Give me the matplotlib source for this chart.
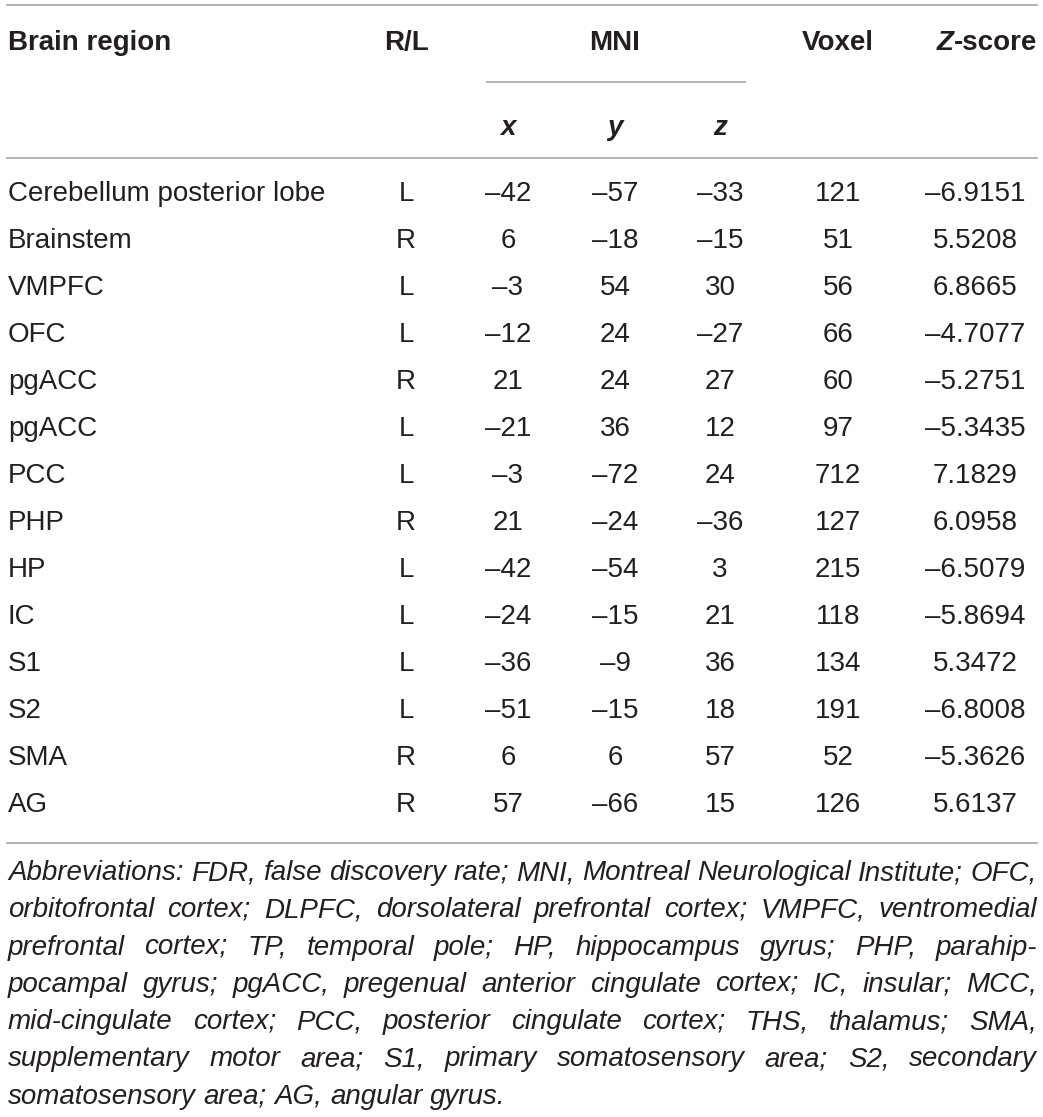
import matplotlib
matplotlib.use("Agg")
import matplotlib.pyplot as plt
from matplotlib import font_manager

regions = ["Cerebellum posterior lobe", "Brainstem", "VMPFC", "OFC", "pgACC", "pgACC",
           "PCC", "PHP", "HP", "IC", "S1", "S2", "SMA", "AG"]
sides = ["L", "R", "L", "L", "R", "L", "L", "R", "L", "L", "L", "L", "R", "R"]
mni_x = [-42, 6, -3, -12, 21, -21, -3, 21, -42, -24, -36, -51, 6, 57]
mni_y = [-57, -18, 54, 24, 24, 36, -72, -24, -54, -15, -9, -15, 6, -66]
mni_z = [-33, -15, 30, -27, 27, 12, 24, -36, 3, 21, 36, 18, 57, 15]
voxels = [121, 51, 56, 66, 60, 97, 712, 127, 215, 118, 134, 191, 52, 126]
zscores = [-6.9151, 5.5208, 6.8665, -4.7077, -5.2751, -5.3435, 7.1829, 6.0958,
           -6.5079, -5.8694, 5.3472, -6.8008, -5.3626, 5.6137]

note_lines = [
    "Abbreviations: FDR, false discovery rate; MNI, Montreal Neurological Institute; OFC,",
    "orbitofrontal cortex; DLPFC, dorsolateral prefrontal cortex; VMPFC, ventromedial",
    "prefrontal cortex; TP, temporal pole; HP, hippocampus gyrus; PHP, parahip-",
    "pocampal gyrus; pgACC, pregenual anterior cingulate cortex; IC, insular; MCC,",
    "mid-cingulate cortex; PCC, posterior cingulate cortex; THS, thalamus; SMA,",
    "supplementary motor area; S1, primary somatosensory area; S2, secondary",
    "somatosensory area; AG, angular gyrus.",
]

W, H = 1043, 1117
ink = "#231f20"
rule = "#a6a6a6"
fam = ["Liberation Sans", "DejaVu Sans"]
names = {f.name for f in font_manager.fontManager.ttflist}
note_fam = ["Liberation Sans Narrow"] + fam if "Liberation Sans Narrow" in names else fam

fig = plt.figure(figsize=(W / 100, H / 100), dpi=100)
ax = fig.add_axes([0, 0, 1, 1])
ax.set_xlim(0, W)
ax.set_ylim(H, 0)
ax.axis("off")

fs = 20
left, right = 8, 1037
cols = [406, 508, 615, 720, 838, 975]


def num(v, fmt="{:d}"):
    s = fmt.format(abs(v))
    return ("\u2013" + s) if v < 0 else s


# rules
ax.plot([left - 1, right], [5, 5], color=rule, lw=1.2)
ax.plot([487, 745], [82, 82], color=rule, lw=1.2)
ax.plot([left - 1, right], [158, 158], color=rule, lw=1.2)
ax.plot([left - 1, right], [843, 843], color=rule, lw=1.2)

# header
hy = 43
ax.text(left, hy, "Brain region", fontsize=fs, fontweight="bold", family=fam, color=ink,
        ha="left", va="center")
ax.text(cols[0], hy, "R/L", fontsize=fs, fontweight="bold", family=fam, color=ink,
        ha="center", va="center")
ax.text(615, hy, "MNI", fontsize=fs, fontweight="bold", family=fam, color=ink,
        ha="center", va="center")
ax.text(cols[4], hy, "Voxel", fontsize=fs, fontweight="bold", family=fam, color=ink,
        ha="center", va="center")
score = ax.text(right, hy, "-score", fontsize=fs, fontweight="bold", family=fam, color=ink,
                ha="right", va="center")
for cx, lab in zip(cols[1:4], ["x", "y", "z"]):
    ax.text(cx, 128, lab, fontsize=fs, fontweight="bold", style="italic", family=fam,
            color=ink, ha="center", va="center")

# body rows
y0, dy = 194, 47.0
for i in range(len(regions)):
    y = y0 + i * dy
    cells = [sides[i], num(mni_x[i]), num(mni_y[i]), num(mni_z[i]), str(voxels[i]),
             num(zscores[i], "{:.4f}")]
    ax.text(left, y, regions[i], fontsize=fs, family=fam, color=ink, ha="left", va="center")
    for cx, c in zip(cols, cells):
        ax.text(cx, y, c, fontsize=fs, family=fam, color=ink, ha="center", va="center")

# footnote, justified word by word
fig.canvas.draw()
r = fig.canvas.get_renderer()
sb = score.get_window_extent(r)
ax.text(sb.x0, hy, "Z", fontsize=fs, fontweight="bold", style="italic", family=fam,
        color=ink, ha="right", va="center")

ny0, ndy = 873, 37.3
for k, line in enumerate(note_lines):
    y = ny0 + k * ndy
    words = line.split(" ")
    objs = [ax.text(0, y, w, fontsize=fs, style="italic", family=note_fam, color=ink,
                    ha="left", va="center") for w in words]
    widths = [o.get_window_extent(r).width for o in objs]
    if k < len(note_lines) - 1:
        gap = (right - left - sum(widths)) / (len(words) - 1)
    else:
        sp = ax.text(0, 0, "a a", fontsize=fs, style="italic", family=note_fam)
        sa = ax.text(0, 0, "aa", fontsize=fs, style="italic", family=note_fam)
        gap = sp.get_window_extent(r).width - sa.get_window_extent(r).width
        sp.remove()
        sa.remove()
    x = left
    for o, w in zip(objs, widths):
        o.set_x(x)
        x += w + gap

fig.savefig("out.png", dpi=100, facecolor="white")
